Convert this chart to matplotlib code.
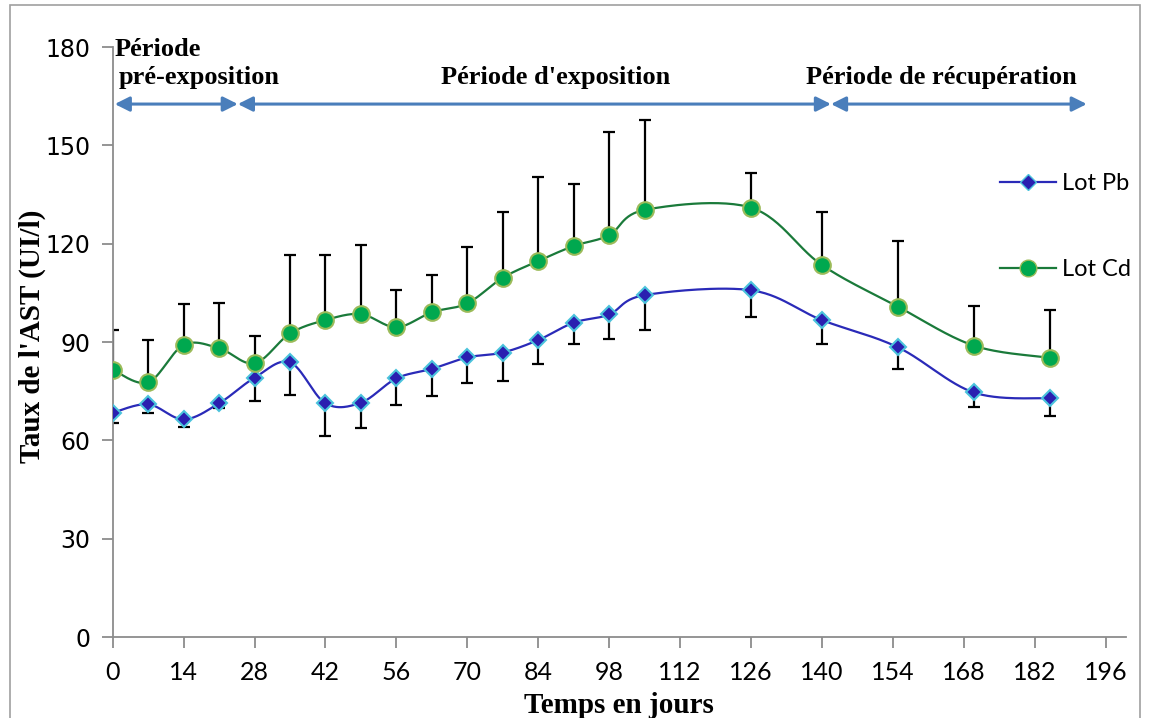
import numpy as np
import matplotlib.pyplot as plt
from matplotlib.patches import Rectangle

# --- data ---
days = [0, 7, 14, 21, 28, 35, 42, 49, 56, 63, 70, 77, 84, 91, 98, 105, 126, 140, 155, 170, 185]
pb_mean = [68.4, 71.0, 66.4, 71.3, 79.1, 83.8, 71.3, 71.5, 78.9, 81.8, 85.3, 86.8, 90.6, 95.9, 98.4,
           104.3, 105.8, 96.7, 88.4, 74.6, 72.8]
pb_err = [3.2, 2.6, 2.2, 1.5, 7.1, 10.0, 9.9, 7.8, 8.1, 8.3, 7.7, 8.7, 7.2, 6.4, 7.4,
          10.5, 8.2, 7.4, 6.7, 4.3, 5.3]
cd_mean = [81.5, 77.7, 89.1, 88.1, 83.5, 92.6, 96.7, 98.5, 94.5, 99.1, 101.8, 109.6, 114.7, 119.3, 122.6,
           130.3, 131.0, 113.5, 100.8, 88.9, 85.2]
cd_err = [12.2, 12.9, 12.4, 13.7, 8.3, 23.8, 19.7, 21.1, 11.4, 11.3, 17.3, 20.1, 25.6, 18.9, 31.5,
          27.4, 10.7, 16.3, 20.0, 12.1, 14.6]

periods = ["Période\npré-exposition", "Période d'exposition", "Période de récupération"]
period_bounds = [(0.4, 24.7), (24.7, 141.8), (141.8, 192.3)]

xticks = list(range(0, 197, 14))
yticks = [0, 30, 60, 90, 120, 150, 180]


def smooth(x, y, n=30):
    """Excel-like smoothed line (Catmull-Rom style bezier through the points)."""
    x = np.asarray(x, float)
    y = np.asarray(y, float)
    px = np.concatenate([[x[0]], x, [x[-1]]])
    py = np.concatenate([[y[0]], y, [y[-1]]])
    xs, ys = [], []
    t = np.linspace(0, 1, n)
    for i in range(1, len(px) - 2):
        p0 = np.array([px[i], py[i]])
        p3 = np.array([px[i + 1], py[i + 1]])
        p1 = p0 + (np.array([px[i + 1], py[i + 1]]) - np.array([px[i - 1], py[i - 1]])) / 6
        p2 = p3 - (np.array([px[i + 2], py[i + 2]]) - np.array([px[i], py[i]])) / 6
        b = ((1 - t) ** 3)[:, None] * p0 + (3 * (1 - t) ** 2 * t)[:, None] * p1 \
            + (3 * (1 - t) * t ** 2)[:, None] * p2 + (t ** 3)[:, None] * p3
        xs.extend(b[:, 0])
        ys.extend(b[:, 1])
    return xs, ys


fig = plt.figure(figsize=(11.49, 7.18), dpi=100)
ax = fig.add_axes([0.0981, 0.1128, 0.8817, 0.8217])

grey = '#8c8c8c'
pb_line, cd_line = '#2a2ab8', '#1a7a3a'

# error bars: Pb only downward, Cd only upward
ax.errorbar(days, pb_mean, yerr=[pb_err, [0] * len(days)], fmt='none', ecolor='black',
            elinewidth=1.6, capsize=4.5, capthick=1.6, zorder=2)
ax.errorbar(days, cd_mean, yerr=[[0] * len(days), cd_err], fmt='none', ecolor='black',
            elinewidth=1.6, capsize=4.5, capthick=1.6, zorder=2)

sx, sy = smooth(days, pb_mean)
ax.plot(sx, sy, color=pb_line, lw=1.6, zorder=3)
sx, sy = smooth(days, cd_mean)
ax.plot(sx, sy, color=cd_line, lw=1.6, zorder=3)

ax.plot(days, pb_mean, ls='none', marker='D', ms=8.5, mfc='#2a1fb0', mec='#4bc3dc', mew=1.5, zorder=4)
ax.plot(days, cd_mean, ls='none', marker='o', ms=12, mfc='#00a84f', mec='#9bbb59', mew=1.5, zorder=4)

# legend entries
ax.plot([], [], color=pb_line, lw=1.6, marker='D', ms=8.5, mfc='#2a1fb0', mec='#4bc3dc', label='Lot Pb')
ax.plot([], [], color=cd_line, lw=1.6, marker='o', ms=12, mfc='#00a84f', mec='#9bbb59', label='Lot Cd')
leg = ax.legend(loc='upper left', bbox_to_anchor=(0.864, 0.806), frameon=False, handlelength=2.4,
                labelspacing=2.75, handletextpad=0.25, borderpad=0, prop={'family': 'Lato', 'size': 17})

# period arrows and labels
arrow_y = 162.6
for (x0, x1) in period_bounds:
    ax.annotate('', xy=(x1, arrow_y), xytext=(x0, arrow_y),
                arrowprops=dict(arrowstyle='<|-|>', color='#4a7ebb', lw=2.2,
                                mutation_scale=22, shrinkA=0, shrinkB=0))
serif = {'family': 'Liberation Serif', 'weight': 'bold', 'size': 19}
ax.text(0.3, 179.2, "Période", ha='left', va='center', fontdict=serif)
ax.text(1.2, 170.6, "pré-exposition", ha='left', va='center', fontdict=serif)
ax.text(87.5, 170.6, periods[1], ha='center', va='center', fontdict=serif)
ax.text(163.5, 170.6, periods[2], ha='center', va='center', fontdict=serif)

ax.set_xlim(0, 200)
ax.set_ylim(0, 180)
ax.set_xticks(xticks)
ax.set_yticks(yticks)
for s in ['top', 'right']:
    ax.spines[s].set_visible(False)
for s in ['left', 'bottom']:
    ax.spines[s].set_color(grey)
    ax.spines[s].set_linewidth(1.3)
ax.tick_params(axis='both', colors=grey, length=8, width=1.3, direction='out')
ax.tick_params(axis='x', labelcolor='black', labelsize=18, pad=9)
ax.tick_params(axis='y', labelcolor='black', labelsize=17, pad=8)
for lab in ax.get_xticklabels():
    lab.set_family('Lato')
for lab in ax.get_yticklabels():
    lab.set_family('DejaVu Sans')

ax.set_xlabel("Temps en jours", fontdict=serif, fontsize=21, labelpad=6)
ax.set_ylabel("Taux de l'AST (UI/l)", fontdict=serif, fontsize=21)
ax.yaxis.label.set_va('center')
ax.yaxis.set_label_coords(-0.079, 0.51)

# outer chart border
fig.patches.append(Rectangle((0.009, -0.01), 0.983, 1.003, transform=fig.transFigure,
                             fill=False, edgecolor='#a0a0a0', lw=1.2))

fig.savefig('out.png', dpi=100)
